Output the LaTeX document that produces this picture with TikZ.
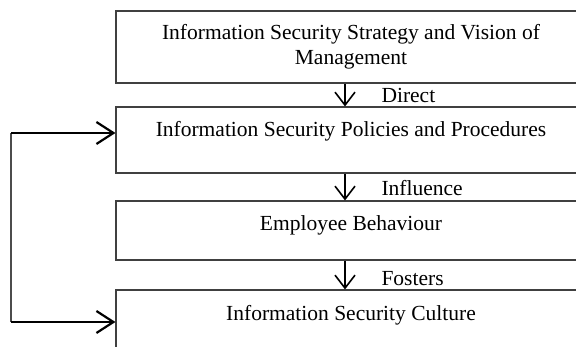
\documentclass[tikz,border=0pt]{standalone}
\usepackage{fontspec}
\setmainfont{Liberation Serif}
\usetikzlibrary{arrows.meta}

\begin{document}
\begin{tikzpicture}[x=1pt,y=-1pt,font=\fontsize{21.5}{25.5}\selectfont]
    \tikzstyle{box}=[draw=black!75,line width=1.1pt,minimum width=472pt,inner sep=0pt]
    \tikzstyle{flow}=[draw=black,line width=1.4pt,-{Straight Barb[length=13pt,width=20pt,line width=1.6pt]}]
    \tikzstyle{back}=[draw=black,line width=2.2pt,-{Straight Barb[length=17pt,width=22pt,line width=2.2pt]}]
    \useasboundingbox (0,0) rectangle (576,347);
    \clip (0,0) rectangle (576,347);

    % the four boxes
    \foreach \name/\y/\h in {strategy/47/72, policies/140/66, behaviour/230.5/59, culture/325/70}
            \node[box,minimum height=\h pt] (\name) at (352,\y) {};

    \node[align=center] (strategy-text) at (351,47) {Information Security Strategy and Vision of\\Management};
    \node (policies-text) at (351,131) {Information Security Policies and Procedures};
    \node (behaviour-text) at (351,225) {Employee Behaviour};
    \node (culture-text) at (351,315) {Information Security Culture};

        % downward links
        \foreach \from/\to/\lbl/\ly in {strategy/policies/Direct/95, policies/behaviour/Influence/188, behaviour/culture/Fosters/279}
        {
            \draw[flow] (\from.south -| 345,0) -- (\to.north -| 345,0);
            \node[anchor=west] (\to-label) at (378,\ly) {\lbl};
        }

        % feedback loop on the left
        \coordinate (corner-top) at (11,133);
        \coordinate (corner-bot) at (11,322);
        \draw[draw=black!70,line width=1.1pt] (corner-top) -- (corner-bot);
        \draw[back] (corner-top) -- (policies.west |- corner-top);
        \draw[back] (corner-bot) -- (culture.west |- corner-bot);
\end{tikzpicture}
\end{document}
